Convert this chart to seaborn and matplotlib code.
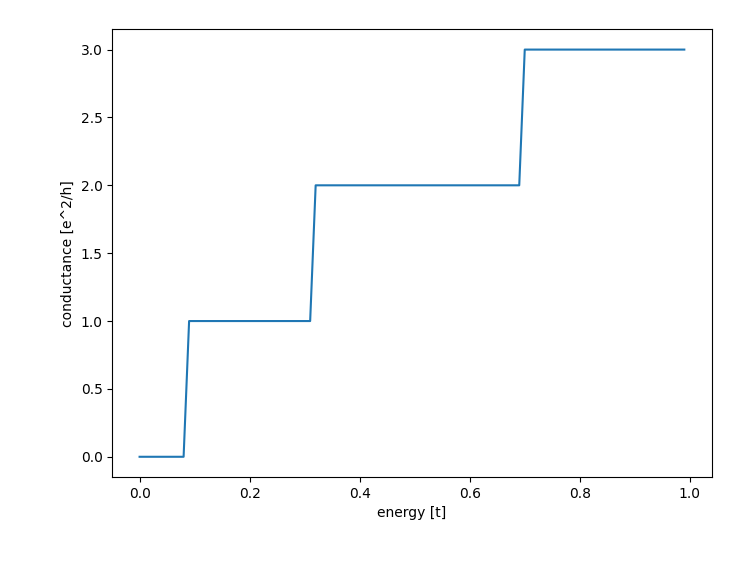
import matplotlib
matplotlib.use("Agg")
import matplotlib.pyplot as plt
import seaborn as sns
import pandas as pd

energies = [round(i * 0.01, 2) for i in range(100)]
conductance = [0.0] * 9 + [1.0] * 23 + [2.0] * 38 + [3.0] * 30

df = pd.DataFrame({"energy": energies, "conductance": conductance})

fig = plt.figure(figsize=(7.49, 5.62), dpi=100)
ax = fig.add_axes([0.15, 0.151, 0.8, 0.797])
sns.lineplot(data=df, x="energy", y="conductance", ax=ax, color="#1f77b4")
ax.set_xlabel("energy [t]")
ax.set_ylabel("conductance [e^2/h]")
fig.savefig("out.png", dpi=100)
